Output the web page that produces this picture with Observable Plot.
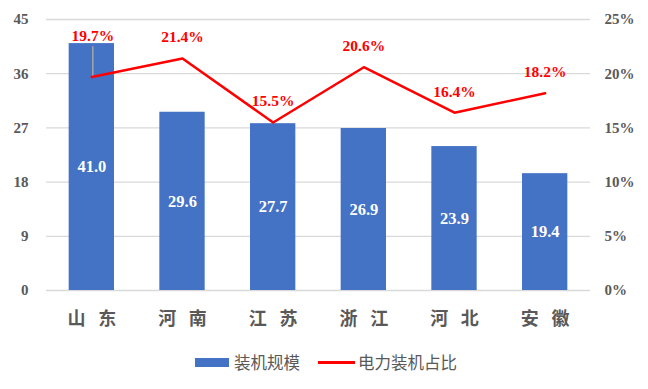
<!DOCTYPE html>
<html>
<head>
<meta charset="utf-8">
<script src="https://cdn.jsdelivr.net/npm/d3@7"></script>
<script src="https://cdn.jsdelivr.net/npm/@observablehq/plot@0.6"></script>
<style>
  body { margin: 0; background: #fff; width: 648px; height: 389px; overflow: hidden; }
  #legend { display: flex; justify-content: center; align-items: center; height: 44px;
    font-family: "Noto Sans CJK SC", sans-serif; font-size: 16.5px; color: #595959; padding-left: 4px; }
  .sw-bar { width: 34px; height: 9px; background: #4472C4; margin-right: 5px; }
  .sw-line { width: 37px; height: 3px; background: #FF0000; margin-left: 18px; margin-right: 3px; }
</style>
</head>
<body>
<div id="chart"></div>
<div id="legend">
  <span class="sw-bar"></span><span id="lg1"></span>
  <span class="sw-line"></span><span id="lg2"></span>
</div>
<script>
const categories = ["山 东", "河 南", "江 苏", "浙 江", "河 北", "安 徽"];
const capacity = [41.0, 29.6, 27.7, 26.9, 23.9, 19.4];
const share = [19.7, 21.4, 15.5, 20.6, 16.4, 18.2];
const leftTicks = [0, 9, 18, 27, 36, 45];
const rightTickLabels = ["0%", "5%", "10%", "15%", "20%", "25%"];
const seriesNames = ["装机规模", "电力装机占比"];

const yMax = 45, pctMax = 25;
const toY = p => p / pctMax * yMax;

const rows = categories.map((c, i) => ({cat: c, cap: capacity[i], pct: share[i], py: toY(share[i])}));
const movedLabel = rows.filter((d, i) => i === 0);
const normalLabels = rows.filter((d, i) => i !== 0);

const serif = "'Liberation Serif', 'Times New Roman', serif";
const cjk = "'Noto Sans CJK SC', sans-serif";

const chart = Plot.plot({
  width: 648,
  height: 340,
  marginLeft: 46,
  marginRight: 58,
  marginTop: 19,
  marginBottom: 50,
  x: {domain: categories, paddingInner: 0.5, paddingOuter: 0.25, round: false},
  y: {domain: [0, yMax]},
  marks: [
    Plot.gridY(leftTicks, {stroke: "#d9d9d9", strokeOpacity: 1, strokeWidth: 1.3}),
    Plot.barY(rows, {x: "cat", y: "cap", fill: "#4472C4"}),
    Plot.text(rows, {x: "cat", y: d => d.cap / 2, text: d => d.cap.toFixed(1), fill: "white",
      fontFamily: serif, fontWeight: "bold", fontSize: 16.5}),
    Plot.ruleX(movedLabel, {x: "cat", y1: "py", y2: d => d.py + 5, stroke: "#a6a6a6", strokeWidth: 1.5, dx: 1}),
    Plot.line(rows, {x: "cat", y: "py", stroke: "#FF0000", strokeWidth: 2.5}),
    Plot.text(normalLabels, {x: "cat", y: "py", dy: -21, text: d => d.pct.toFixed(1) + "%", fill: "#FF0000",
      fontFamily: serif, fontWeight: "bold", fontSize: 15.5}),
    Plot.text(movedLabel, {x: "cat", y: "py", dy: -41, dx: 1, text: d => d.pct.toFixed(1) + "%", fill: "#FF0000",
      fontFamily: serif, fontWeight: "bold", fontSize: 15.5}),
    Plot.axisY({ticks: leftTicks, tickSize: 0, tickPadding: 18, label: null,
      fontFamily: serif, fontWeight: "bold", fontSize: 15, fill: "#595959"}),
    Plot.axisY({anchor: "right", ticks: leftTicks, tickSize: 0, tickPadding: 14, label: null,
      tickFormat: d => rightTickLabels[leftTicks.indexOf(d)],
      fontFamily: serif, fontWeight: "bold", fontSize: 15, fill: "#595959"}),
    Plot.axisX({tickSize: 0, tickPadding: 22, label: null,
      tickFormat: d => d.split(" ").join("\u2002\u2009"),
      fontFamily: cjk, fontWeight: "bold", fontSize: 18, fill: "#595959"})
  ]
});
chart.style.fontFamily = serif;
document.getElementById("chart").appendChild(chart);
document.getElementById("lg1").textContent = seriesNames[0];
document.getElementById("lg2").textContent = seriesNames[1];
</script>
</body>
</html>
